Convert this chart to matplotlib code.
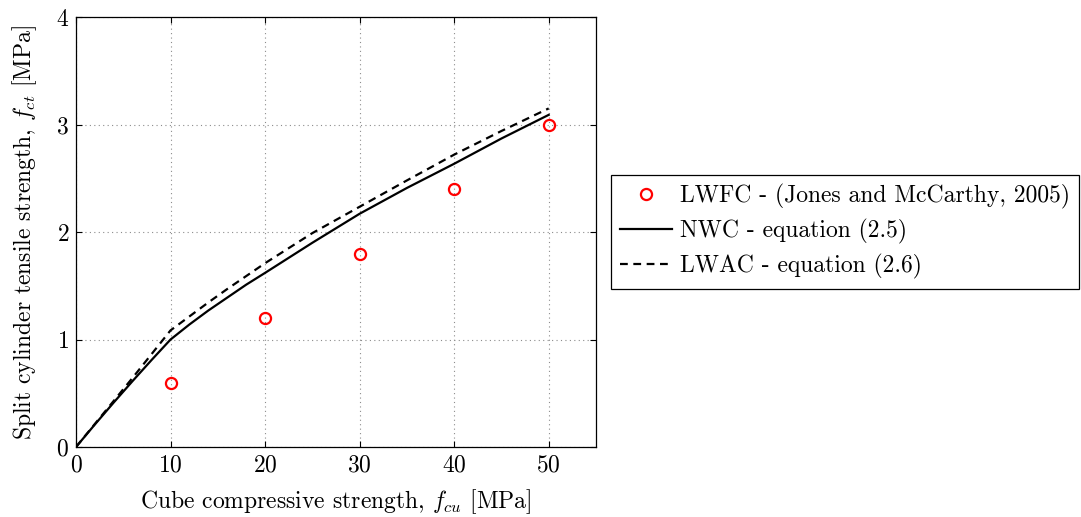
import matplotlib
matplotlib.use('Agg')
import matplotlib.pyplot as plt

plt.rcParams['font.family'] = 'cmr10'
plt.rcParams['mathtext.fontset'] = 'cm'
plt.rcParams['axes.unicode_minus'] = False
plt.rcParams['axes.formatter.use_mathtext'] = True

# test data (Jones and McCarthy, 2005)
fcu_pts = [10, 20, 30, 40, 50]
fct_pts = [0.6, 1.2, 1.8, 2.4, 3.0]

# curves
fcu = [0, 2, 4, 6, 8, 10, 12, 14, 16, 18, 20, 25, 30, 35, 40, 45, 50]
fct_nwc = [0, 0.21, 0.415, 0.615, 0.81, 1.0, 1.14, 1.27, 1.39, 1.51, 1.62,
           1.90, 2.17, 2.41, 2.635, 2.87, 3.09]
fct_lwac = [0, 0.215, 0.43, 0.645, 0.865, 1.085, 1.215, 1.345, 1.47, 1.59, 1.71,
            1.99, 2.235, 2.48, 2.72, 2.94, 3.15]

fs = 17

fig = plt.figure(figsize=(10.81, 5.17), dpi=100)
ax = fig.add_axes([0.0703, 0.1354, 0.481, 0.8316])

ax.plot(fcu_pts, fct_pts, 'o', mfc='none', mec='red', mew=1.6, ms=8,
        label='LWFC - (Jones and McCarthy, 2005)')
ax.plot(fcu, fct_nwc, 'k-', lw=1.6, label='NWC - equation (2.5)')
ax.plot(fcu, fct_lwac, 'k--', lw=1.6, dashes=(3.5, 2.5), label='LWAC - equation (2.6)')

ax.set_xlim(0, 55)
ax.set_ylim(0, 4)
ax.set_xticks([0, 10, 20, 30, 40, 50])
ax.set_yticks([0, 1, 2, 3, 4])
ax.grid(True, linestyle=(0, (1, 3)), color='0.55', lw=0.8)
ax.tick_params(direction='in', top=True, right=True, length=4, labelsize=fs, pad=5)
for s in ax.spines.values():
    s.set_linewidth(0.9)

ax.set_xlabel(r'Cube compressive strength, $f_{cu}$ [MPa]', fontsize=fs, labelpad=8)
ax.set_ylabel(r'Split cylinder tensile strength, $f_{ct}$ [MPa]', fontsize=fs, labelpad=12)

leg = ax.legend(loc='center left', bbox_to_anchor=(1.029, 0.501), fontsize=fs,
                fancybox=False, edgecolor='black', framealpha=1, handlelength=2.2,
                borderpad=0.4, labelspacing=0.42, handletextpad=0.3, borderaxespad=0)
leg.get_frame().set_linewidth(0.9)

fig.savefig('out.png', dpi=100)
